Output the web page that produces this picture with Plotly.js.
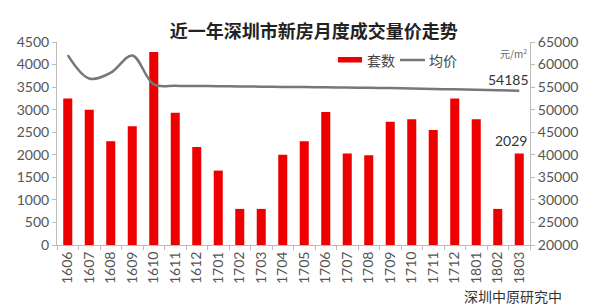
<!DOCTYPE html>
<html>
<head>
<meta charset="utf-8">
<script src="https://cdn.plot.ly/plotly-3.0.1.min.js"></script>
<style>html,body{margin:0;padding:0;background:#fff;}#chart{width:600px;height:306px;}</style>
</head>
<body>
<div id="chart"></div>
<script>
const months = ['1606','1607','1608','1609','1610','1611','1612','1701','1702','1703','1704','1705','1706','1707','1708','1709','1710','1711','1712','1801','1802','1803'];
const units = [3250,3000,2300,2630,4280,2930,2170,1650,800,800,2000,2300,2950,2030,1990,2730,2790,2550,3250,2790,800,2029];
const prices = [62100,56900,58200,62000,55600,55300,55250,55200,55150,55100,55050,55000,54950,54900,54850,54800,54700,54600,54500,54400,54300,54185];
const seriesNames = ['套数','均价'];
const titleText = '近一年深圳市新房月度成交量价走势';
const unitLabel = '元/m<sup>2</sup>';
const sourceText = '深圳中原研究中';

const FONT = 'Lato, "Noto Sans CJK SC", sans-serif';
const CJK = '"Noto Sans CJK SC", sans-serif';
const last = months.length - 1;

const traces = [
  {type:'bar', x:months, y:units, name:seriesNames[0], marker:{color:'#ee0000'}, yaxis:'y', showlegend:false},
  {type:'scatter', mode:'lines', x:months, y:prices, name:seriesNames[1], yaxis:'y2',
   line:{color:'#777777', width:2.5, shape:'spline', smoothing:1}, showlegend:false}
];

const layout = {
  width:600, height:306,
  margin:{l:57, r:70, t:42, b:61},
  paper_bgcolor:'#fff', plot_bgcolor:'#fff',
  bargap:0.58,
  font:{family:FONT, color:'#444', size:13},
  title:{text:'<b>'+titleText+'</b>', x:0.523, xanchor:'center', y:0.895, yanchor:'middle',
         font:{family:CJK, size:18, color:'#222'}},
  xaxis:{type:'category', categoryorder:'array', categoryarray:months, range:[-0.5, last+0.5],
         showline:true, linecolor:'#bbb', linewidth:1, ticks:'outside', ticklen:4,
         tickcolor:'#bbb', tickson:'boundaries', tickangle:-90, showgrid:false, zeroline:false,
         tickfont:{family:FONT, size:14, color:'#555'}},
  yaxis:{range:[0,4500], dtick:500, showline:true, linecolor:'#bbb', ticks:'outside', ticklen:4,
         tickcolor:'#bbb', showgrid:false, zeroline:false, tickfont:{family:FONT, size:14, color:'#555'}},
  yaxis2:{range:[20000,65000], dtick:5000, tickformat:'d', overlaying:'y', side:'right', showline:true, linecolor:'#bbb',
          ticks:'outside', ticklen:4, tickcolor:'#bbb', showgrid:false, zeroline:false,
          tickfont:{family:FONT, size:14, color:'#555'}},
  shapes:[
    {type:'rect', xref:'paper', yref:'paper', x0:(338-57)/473, x1:(362-57)/473, y0:(245-62.5)/203, y1:(245-57)/203,
     fillcolor:'#ee0000', line:{width:0}},
    {type:'line', xref:'paper', yref:'paper', x0:(400-57)/473, x1:(425-57)/473, y0:(245-60)/203, y1:(245-60)/203,
     line:{color:'#777777', width:2.5}}
  ],
  annotations:[
    {xref:'paper', yref:'paper', x:(365-57)/473, y:(245-60)/203, xanchor:'left', yanchor:'middle',
     text:seriesNames[0], showarrow:false, font:{family:CJK, size:14, color:'#444'}},
    {xref:'paper', yref:'paper', x:(427-57)/473, y:(245-60)/203, xanchor:'left', yanchor:'middle',
     text:seriesNames[1], showarrow:false, font:{family:CJK, size:14, color:'#444'}},
    {xref:'paper', yref:'paper', x:(529-57)/473, y:(245-53)/203, xanchor:'right', yanchor:'middle',
     text:unitLabel, showarrow:false, font:{family:CJK, size:10, color:'#666'}},
    {xref:'x', x:last, y:prices[last], yref:'y2', xanchor:'right', yanchor:'bottom', xshift:12, yshift:1,
     text:String(prices[last]), showarrow:false, font:{family:FONT, size:14, color:'#333'}},
    {xref:'x', x:last, y:units[last], yref:'y', xanchor:'center', yanchor:'bottom', xshift:-8, yshift:2,
     text:String(units[last]), showarrow:false, font:{family:FONT, size:14, color:'#333'}},
    {xref:'paper', yref:'paper', x:(564-57)/473, y:(245-296)/203, xanchor:'right', yanchor:'middle',
     text:sourceText, showarrow:false, font:{family:CJK, size:14, color:'#333'}}
  ]
};

Plotly.newPlot('chart', traces, layout, {staticPlot:true, displayModeBar:false});
</script>
</body>
</html>
